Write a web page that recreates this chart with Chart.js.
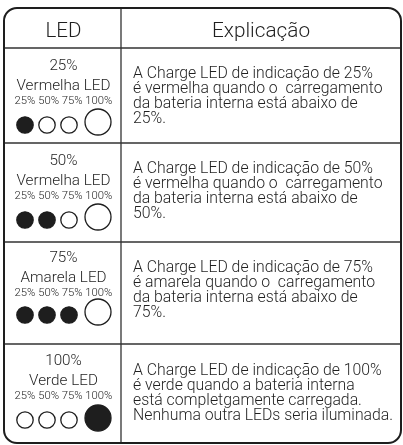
<!DOCTYPE html>
<html><head><meta charset="utf-8">
<script src="https://cdn.jsdelivr.net/npm/chart.js@4/dist/chart.umd.min.js"></script>
<style>html,body{margin:0;padding:0;background:#fff;overflow:hidden}#wrap{position:relative;width:403px;height:445px}</style>
</head><body><div id="wrap"><canvas id="c" width="403" height="445"></canvas></div>
<script>
// ---- data ----
const headers = ["LED", "Explicação"];
const levels = ["25%", "50%", "75%", "100%"];
const colourNames = ["Vermelha LED", "Vermelha LED", "Amarela LED", "Verde LED"];
const slotLabels = ["25%", "50%", "75%", "100%"];
const ledLit = [[1,0,0,0],[1,1,0,0],[1,1,1,0],[0,0,0,1]];
const explanations = [
  ["A Charge LED de indicação de 25%", "é vermelha quando o  carregamento", "da bateria interna está abaixo de", "25%."],
  ["A Charge LED de indicação de 50%", "é vermelha quando o  carregamento", "da bateria interna está abaixo de", "50%."],
  ["A Charge LED de indicação de 75%", "é amarela quando o  carregamento", "da bateria interna está abaixo de", "75%."],
  ["A Charge LED de indicação de 100%", "é verde quando a bateria interna", "está completgamente carregada.", "Nenhuma outra LEDs seria iluminada."]
];

// ---- layout (positions, sizes, styles) ----
const L = {
  left: 4, right: 401, top: 8, bottom: 443, radius: 13,
  rowEdges: [8, 48, 143, 242, 344, 443],
  colDiv: 121,
  slotX: [25, 47, 69, 98],
  smallR: 8.2, bigR: 13,
  smallDy: [77, 77, 73, 76], bigDy: [74, 74, 70, 74],
  pctDy: [22, 22, 20, 21], nameDy: [42, 42, 40, 41], slotDy: [56, 56, 54, 55],
  textDy: [29.5, 30, 29.7, 31], lineH: 15,
  ink: '#1f1f1f'
};
const FONT = 'Roboto, "Liberation Sans", Arial, sans-serif';
const WEIGHT = '300 ';
// target widths (px) of sample strings, used to pick font sizes
const FIT = {
  head0: ["LED", 36], head1: ["Explicação", 98],
  name: ["Vermelha LED", 94], slots: ["25% 50% 75% 100%", 98],
  body: ["A Charge LED de indicação de 25%", 240]
};

const ledPoints = [];
ledLit.forEach((row, ri) => {
  row.forEach((on, si) => {
    const big = si === 3;
    ledPoints.push({
      x: L.slotX[si],
      y: L.rowEdges[ri + 1] + (big ? L.bigDy[ri] : L.smallDy[ri]),
      r: big ? L.bigR : L.smallR,
      on: on
    });
  });
});

function fitFont(ctx, key) {
  const [s, w] = FIT[key];
  ctx.font = WEIGHT + '20px ' + FONT;
  const m = ctx.measureText(s).width;
  return WEIGHT + (20 * w / m).toFixed(2) + 'px ' + FONT;
}

const tablePlugin = {
  id: 'table',
  beforeDatasetsDraw(chart) {
    const ctx = chart.ctx, X = chart.scales.x, Y = chart.scales.y;
    const px = v => X.getPixelForValue(v), py = v => Y.getPixelForValue(v);
    const F = {};
    Object.keys(FIT).forEach(k => F[k] = fitFont(ctx, k));
    ctx.save();
    ctx.strokeStyle = '#333';
    ctx.lineWidth = 1.3;
    ctx.beginPath();
    for (let i = 1; i < L.rowEdges.length - 1; i++) {
      ctx.moveTo(px(L.left), py(L.rowEdges[i]));
      ctx.lineTo(px(L.right), py(L.rowEdges[i]));
    }
    ctx.moveTo(px(L.colDiv), py(L.top));
    ctx.lineTo(px(L.colDiv), py(L.bottom));
    ctx.stroke();
    ctx.strokeStyle = '#1e1e1e';
    ctx.lineWidth = 2;
    ctx.beginPath();
    ctx.roundRect(px(L.left), py(L.top), px(L.right) - px(L.left), py(L.bottom) - py(L.top), L.radius);
    ctx.stroke();

    ctx.fillStyle = L.ink;
    ctx.textAlign = 'center';
    ctx.textBaseline = 'alphabetic';
    ctx.font = F.head0;
    ctx.fillText(headers[0], px((L.left + L.colDiv) / 2 + 1), py(36.5));
    ctx.font = F.head1;
    ctx.fillText(headers[1], px((L.colDiv + L.right) / 2), py(36.5));

    const cx = px((L.left + L.colDiv) / 2 + 1);
    for (let r = 0; r < levels.length; r++) {
      const top = L.rowEdges[r + 1];
      ctx.textAlign = 'center';
      ctx.font = F.name;
      ctx.fillText(levels[r], cx, py(top + L.pctDy[r]));
      ctx.fillText(colourNames[r], cx, py(top + L.nameDy[r]));
      ctx.font = F.slots;
      ctx.fillText(slotLabels.join(' '), cx, py(top + L.slotDy[r]));
      ctx.textAlign = 'left';
      ctx.font = F.body;
      explanations[r].forEach((line, li) => {
        ctx.fillText(line, px(133), py(top + L.textDy[r] + li * L.lineH));
      });
    }
    ctx.restore();
  }
};

new Chart(document.getElementById('c'), {
  type: 'bubble',
  data: {
    datasets: [{
      label: 'LED',
      data: ledPoints,
      backgroundColor: c => (c.raw && c.raw.on) ? '#1e1e1e' : '#ffffff',
      borderColor: '#1e1e1e',
      borderWidth: 1.3,
      hoverRadius: 0,
      clip: false
    }]
  },
  options: {
    responsive: false,
    devicePixelRatio: 1,
    animation: false,
    events: [],
    layout: { padding: 0, autoPadding: false },
    plugins: { legend: { display: false }, tooltip: { enabled: false } },
    scales: {
      x: { type: 'linear', min: 0, max: 403, display: false },
      y: { type: 'linear', min: 0, max: 445, reverse: true, display: false }
    }
  },
  plugins: [tablePlugin]
});
</script></body></html>
